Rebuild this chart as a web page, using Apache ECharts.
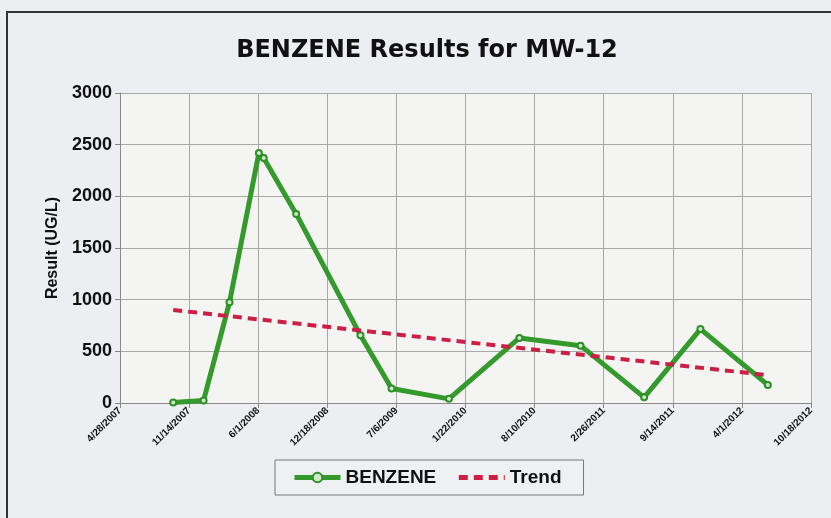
<!DOCTYPE html>
<html>
<head>
<meta charset="utf-8">
<script src="https://cdn.jsdelivr.net/npm/echarts@6/dist/echarts.min.js"></script>
<style>
  html, body { margin: 0; padding: 0; background: #eceef1; }
  #chart { width: 831px; height: 518px; }
</style>
</head>
<body>
<div id="chart"></div>
<script>
// sample dates and benzene results (ug/L)
const sampleDates = [
    "2007-09-29", "2007-12-26", "2008-03-10", "2008-06-03", "2008-06-17",
    "2008-09-19", "2009-03-24", "2009-06-22", "2009-12-05", "2010-06-27",
    "2010-12-21", "2011-06-23", "2011-12-03", "2012-06-15"
];
const benzene = [5, 25, 975, 2420, 2370, 1830, 655, 140, 40, 630, 555, 55, 715, 175];

// linear trend line end points
const trendDates = ["2007-09-29", "2012-06-15"];
const trendValues = [900, 270];

// x axis runs in days from the first tick (4/28/2007), ticks every 200 days
const axisStart = Date.UTC(2007, 3, 28);
const DAY = 86400000;
const xMin = 0;
const xMax = 2000;
const xStep = 200;

const toDay = s => {
    const [y, m, d] = s.split("-").map(Number);
    return Math.round((Date.UTC(y, m - 1, d) - axisStart) / DAY);
};
const dayLabel = v => {
    const dt = new Date(axisStart + v * DAY);
    return (dt.getUTCMonth() + 1) + "/" + dt.getUTCDate() + "/" + dt.getUTCFullYear();
};

const chart = echarts.init(document.getElementById("chart"));

chart.setOption({
    backgroundColor: "#eceef1",
    textStyle: { fontFamily: "Liberation Sans, Arial, sans-serif" },
    title: {
        text: "BENZENE Results for MW-12",
        left: 422,
        textAlign: "center",
        top: 34,
        textStyle: { fontSize: 24, fontWeight: "bold", color: "#111", fontFamily: "DejaVu Sans" }
    },
    graphic: [{
        type: "rect",
        shape: { x: 7, y: 12, width: 840, height: 520 },
        style: { fill: "none", stroke: "#333", lineWidth: 2 },
        silent: true
    }],
    legend: {
        left: 275,
        top: 460,
        padding: [8, 22, 8, 17],
        itemGap: 20,
        itemWidth: 46,
        itemHeight: 12,
        borderColor: "#777",
        borderWidth: 1,
        backgroundColor: "#eef0f2",
        textStyle: { fontSize: 19, fontWeight: "bold", color: "#111" },
        data: [
            { name: "BENZENE", lineStyle: { width: 5 } },
            { name: "Trend", lineStyle: { width: 5 }, itemStyle: { color: "transparent", borderWidth: 0 } }
        ]
    },
    grid: {
        left: 120,
        right: 20,
        top: 93,
        bottom: 115,
        show: true,
        backgroundColor: "#f4f5f3",
        borderWidth: 0
    },
    xAxis: {
        type: "value",
        min: xMin,
        max: xMax,
        interval: xStep,
        axisLine: { show: true, lineStyle: { color: "#888" } },
        axisTick: { show: true, length: 5, lineStyle: { color: "#888" } },
        splitLine: { show: true, lineStyle: { color: "#a8a8a8" } },
        axisLabel: {
            rotate: 45,
            margin: 6,
            fontSize: 10,
            fontWeight: "bold",
            color: "#111",
            formatter: dayLabel
        }
    },
    yAxis: {
        type: "value",
        min: 0,
        max: 3000,
        interval: 500,
        name: "Result (UG/L)",
        nameLocation: "middle",
        nameGap: 58,
        nameTextStyle: { fontSize: 16, fontWeight: "bold", color: "#111" },
        axisLine: { show: true, lineStyle: { color: "#888" } },
        axisTick: { show: true, length: 5, lineStyle: { color: "#888" } },
        splitLine: { show: true, lineStyle: { color: "#a8a8a8" } },
        axisLabel: {
            fontSize: 18,
            fontWeight: "bold",
            color: "#111",
            margin: 8,
            formatter: v => String(v)
        }
    },
    series: [
        {
            name: "BENZENE",
            type: "line",
            data: sampleDates.map((d, i) => [toDay(d), benzene[i]]),
            symbol: "circle",
            symbolSize: 6,
            lineStyle: { color: "#339a2b", width: 5 },
            itemStyle: { color: "#cfe8c6", borderColor: "#2f8f27", borderWidth: 2 },
            z: 2
        },
        {
            name: "Trend",
            type: "line",
            data: trendDates.map((d, i) => [toDay(d), trendValues[i]]),
            symbol: "none",
            lineStyle: { color: "#cc1f45", width: 4, type: [9, 6] },
            itemStyle: { color: "#cc1f45" },
            z: 3
        }
    ]
});
</script>
</body>
</html>
